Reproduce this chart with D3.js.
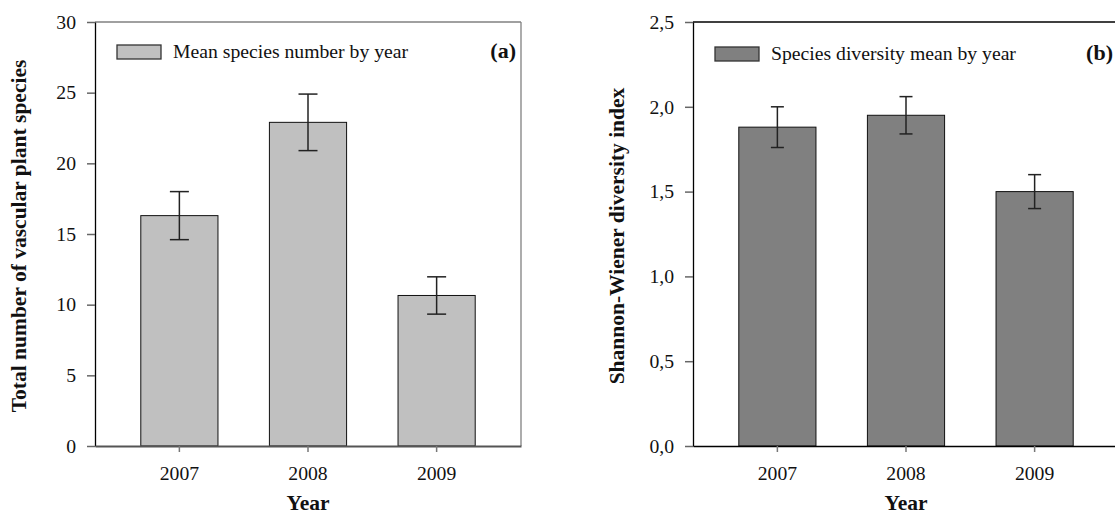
<!DOCTYPE html>
<html>
<head>
<meta charset="utf-8">
<script src="https://cdn.jsdelivr.net/npm/d3@7"></script>
<style>
  body { margin: 0; background: #fff; }
  svg { display: block; font-family: "Liberation Serif", "Times New Roman", serif; }
  .axis text { font-family: "Liberation Serif", "Times New Roman", serif; font-size: 19.7px; fill: #111; }
  .title { font-weight: bold; font-size: 21.5px; fill: #111; }
</style>
</head>
<body>
<script>
// data
const years = ['2007', '2008', '2009'];
const speciesMean = [16.3, 22.9, 10.65];
const speciesErr = [1.7, 2.0, 1.32];
const diversityMean = [1.88, 1.95, 1.50];
const diversityErr = [0.12, 0.11, 0.10];
const speciesTicks = [0, 5, 10, 15, 20, 25, 30];
const diversityTicks = [0, 0.5, 1.0, 1.5, 2.0, 2.5];

const outerW = 1115,
    outerH = 516;

const w = 426,
    h = 424;

const comma = d3.formatLocale({decimal: ',', thousands: '.', grouping: [3], currency: ['', '']});

const svg = d3.select('body').append('svg')
    .attr('width', outerW)
    .attr('height', outerH);

function panel(opts) {
    const g = svg.append('g')
        .attr('transform', `translate(${opts.left}, 22)`);

    const x = d3.scaleBand().range([0, w]).domain(years)
        .paddingInner(0.4).paddingOuter(0.356);
    const y = d3.scaleLinear().range([h, 0]).domain([0, opts.max]);

    const data = years.map((yr, i) => ({year: yr, mean: opts.mean[i], err: opts.err[i]}));

    // frame top + right
    g.append('line')
        .attr('x1', 0).attr('x2', w).attr('y1', 0).attr('y2', 0)
        .attr('stroke', opts.frame).attr('stroke-width', 1.3);
    g.append('line')
        .attr('x1', w).attr('x2', w).attr('y1', 0).attr('y2', h)
        .attr('stroke', opts.frame).attr('stroke-width', 1.3);

    // bars
    g.selectAll('.bar')
        .data(data)
        .enter()
        .append('rect')
        .attr('class', 'bar')
        .attr('x', d => x(d.year))
        .attr('y', d => y(d.mean))
        .attr('width', x.bandwidth())
        .attr('height', d => y(0) - y(d.mean))
        .attr('fill', opts.fill)
        .attr('stroke', '#111')
        .attr('stroke-width', 1);

    // error bars
    const eb = g.selectAll('.err')
        .data(data)
        .enter()
        .append('g')
        .attr('class', 'err')
        .attr('transform', d => `translate(${x(d.year) + x.bandwidth() / 2}, 0)`)
        .attr('stroke', '#222')
        .attr('stroke-width', 1.5);
    eb.append('line')
        .attr('y1', d => y(d.mean + d.err))
        .attr('y2', d => y(d.mean - d.err));
    eb.append('line')
        .attr('x1', -opts.cap / 2).attr('x2', opts.cap / 2)
        .attr('y1', d => y(d.mean + d.err)).attr('y2', d => y(d.mean + d.err));
    eb.append('line')
        .attr('x1', -opts.cap / 2).attr('x2', opts.cap / 2)
        .attr('y1', d => y(d.mean - d.err)).attr('y2', d => y(d.mean - d.err));

    // axes
    const yAxis = g.append('g')
        .attr('class', 'y axis')
        .call(d3.axisLeft(y)
            .tickValues(opts.ticks)
            .tickFormat(opts.fmt)
            .tickSize(8)
            .tickSizeOuter(0)
            .tickPadding(11)
        );
    yAxis.select('.domain').attr('stroke', '#000').attr('stroke-width', 1.3);
    yAxis.selectAll('.tick line').attr('stroke', '#666').attr('stroke-width', 1.5);

    const xAxis = g.append('g')
        .attr('class', 'x axis')
        .attr('transform', `translate(0, ${h})`)
        .call(d3.axisBottom(x)
            .tickSize(6)
            .tickSizeOuter(0)
            .tickPadding(14)
        );
    xAxis.select('.domain').attr('stroke', opts.bottom).attr('stroke-width', opts.bottomW);
    xAxis.selectAll('.tick line').attr('stroke', '#777').attr('stroke-width', 1.5);

    // legend
    g.append('rect')
        .attr('x', 22).attr('y', opts.legY)
        .attr('width', 44).attr('height', 14)
        .attr('fill', opts.fill)
        .attr('stroke', '#333').attr('stroke-width', 1.3);
    g.append('text')
        .attr('x', 78).attr('y', opts.legY + 12.7)
        .style('font-size', '19.7px').attr('fill', '#111')
        .text(opts.legend);
    g.append('text')
        .attr('class', 'title')
        .attr('text-anchor', 'end')
        .attr('x', opts.tagX).attr('y', opts.legY + 12.5)
        .style('font-size', '22px')
        .text(opts.tag);

    // axis titles
    g.append('text')
        .attr('class', 'title')
        .attr('text-anchor', 'middle')
        .attr('transform', `translate(-69, ${h / 2 + 2}) rotate(-90)`)
        .text(opts.yTitle);
    g.append('text')
        .attr('class', 'title')
        .attr('text-anchor', 'middle')
        .attr('x', w / 2).attr('y', 488)
        .text('Year');
}

panel({
    left: 95, max: 30, ticks: speciesTicks, fmt: d3.format('d'),
    mean: speciesMean, err: speciesErr, fill: '#c0c0c0', cap: 19,
    frame: '#808080', bottom: '#555', bottomW: 2.2,
    legY: 23, legend: 'Mean species number by year', tag: '(a)', tagX: 421,
    yTitle: 'Total number of vascular plant species'
});

panel({
    left: 693, max: 2.5, ticks: diversityTicks, fmt: comma.format('.1f'),
    mean: diversityMean, err: diversityErr, fill: '#808080', cap: 13,
    frame: '#000', bottom: '#000', bottomW: 1.3,
    legY: 25, legend: 'Species diversity mean by year', tag: '(b)', tagX: 420,
    yTitle: 'Shannon-Wiener diversity index'
});
</script>
</body>
</html>
